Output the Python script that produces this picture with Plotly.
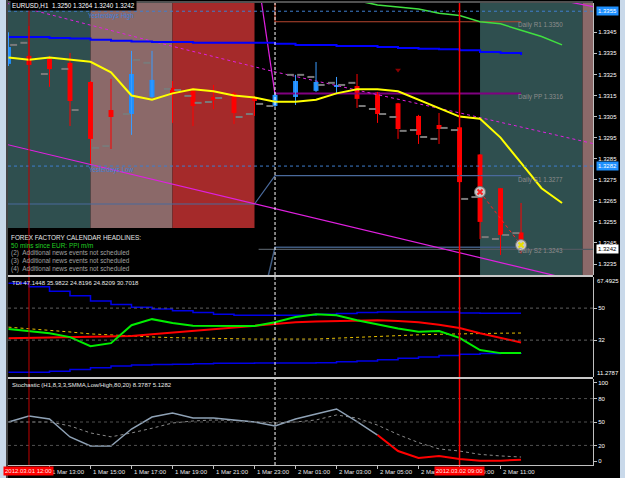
import plotly.graph_objects as go

# ---------------- DATA ----------------
# time axis: hours after 2012-03-01 12:00 (H1 bars, EURUSD)
hours = list(range(-1, 25))
bar_open = [1.3330, 1.33338, 1.33324, 1.33305, 1.33214, 1.33081, 1.33062, 1.33143, 1.33186, 1.33172,
            1.33143, 1.3316, 1.33143, 1.3310, 1.33143, 1.33172, 1.33191, 1.33195, 1.33165, 1.33113,
            1.33053, 1.3301, 1.32999, 1.3287, 1.3271, 1.3250]
bar_high = [1.3345, 1.3348, 1.33338, 1.33352, 1.33219, 1.33229, 1.33362, 1.33362, 1.33219, 1.33186,
            1.3320, 1.33167, 1.33148, 1.33162, 1.33248, 1.33309, 1.33238, 1.33252, 1.33167, 1.33115,
            1.33058, 1.33067, 1.33001, 1.32872, 1.32711, 1.3264]
bar_low = [1.3329, 1.33176, 1.33191, 1.33005, 1.32825, 1.32896, 1.32963, 1.3314, 1.3302, 1.33005,
           1.33086, 1.33015, 1.33053, 1.33095, 1.33105, 1.33167, 1.33157, 1.33091, 1.3302, 1.32944,
           1.3292, 1.3292, 1.32659, 1.32469, 1.32393, 1.3240]
bar_close = [1.3338, 1.33295, 1.33275, 1.33124, 1.32944, 1.33048, 1.33252, 1.33224, 1.33157, 1.331,
             1.33129, 1.33067, 1.33124, 1.33153, 1.33219, 1.33214, 1.3320, 1.33134, 1.33062, 1.32991,
             1.32963, 1.32991, 1.32739, 1.3255, 1.32488, 1.3242]
# gray open/close ticks of a secondary price overlay
gray_left = [None, 1.3340, 1.33252, 1.33276, None, 1.3291, 1.33062, 1.33305, 1.33181, 1.33148,
             1.33119, None, 1.33062, 1.331, 1.33248, 1.33238, 1.3321, 1.3321, 1.33086, 1.33048,
             1.32986, 1.32944, 1.32986, 1.32668, 1.32469, 1.32497]
gray_right = [1.3339, None, None, 1.33081, 1.32901, None, 1.33319, None, 1.33176, 1.33115,
              1.33138, 1.33048, 1.3311, None, 1.33248, 1.3320, 1.3320, 1.331, 1.33062, 1.32982,
              1.32953, 1.32996, 1.32659, 1.32478, 1.32488, None]
# moving averages
ma_yellow_hours = list(range(-1, 27))
ma_yellow = [1.3333, 1.3332, 1.3333, 1.3332, 1.3331, 1.3326, 1.3315, 1.3313, 1.3316, 1.3318,
             1.3317, 1.3315, 1.3314, 1.3312, 1.3312, 1.3313, 1.3316, 1.3318, 1.3318, 1.3317,
             1.3313, 1.3309, 1.3305, 1.3304, 1.3295, 1.3283, 1.3271, 1.3264]
ma_blue = [1.33428, 1.33428, 1.33423, 1.3342, 1.33414, 1.3341, 1.33406, 1.33404, 1.33404, 1.3340,
           1.3340, 1.3340, 1.3340, 1.33395, 1.3339, 1.3339, 1.33385, 1.33385, 1.3338, 1.33376,
           1.33372, 1.3337, 1.33365, 1.33356, 1.33352, 1.33342]
ma_green_hours = list(range(15, 27))
ma_green = [1.3362, 1.3360, 1.3358, 1.3357, 1.3356, 1.3354, 1.3353, 1.3350, 1.3349, 1.3346, 1.3343, 1.3339]
# trend lines
chan_up_hours = [-1.1, 6.15, 12, 21.02, 27.6]
chan_up = [1.33588, 1.33404, 1.33262, 1.33067, 1.3292]
chan_low_hours = [-1.1, 27.6]
chan_low = [1.32918, 1.3225]
steep_hours = [11.3, 12]
steep = [1.3362, 1.33155]
top_right_hours = [25.5, 27.6]
top_right = [1.3361, 1.3357]
# levels
yesterday_high = 1.3355
yesterday_low = 1.32815
pivot_names = ["Daily R1", "Daily PP", "Daily S1", "Daily S2"]
pivot_values = [1.3350, 1.3316, 1.3277, 1.3243]
pivot_colors = ["#b8452f", "#800080", "#4a6a9c", "#3e5a80"]
prev_s1 = 1.32635
prev_s2 = 1.3229
bid = 1.3242
# session boxes
sess_start = [-1.5, 3, 7, 22, 27]
sess_end = [3, 7, 11, 27, 28]
sess_low = [1.32521, 1.32521, 1.32521, 1.32298, 1.32298]
sess_color = ["#2f4f4f", "#8b6969", "#a52a2a", "#2f4f4f", "#8b6969"]
# trade markers
trade_hours = [22, 24]
trade_price = [1.32692, 1.3244]
# TDI
tdi_upper = [64, 62, 59.5, 57, 54, 52, 50.5, 49.5, 48.5, 47.5, 46.5, 46, 46, 46, 46, 46.5, 47, 47.5,
             47.8, 47.8, 47.8, 47.8, 47.2, 47.1, 47.1, 47.1]
tdi_lower = [14, 14, 14.5, 15.5, 16.5, 17.5, 18, 18.3, 18.5, 18.7, 19, 19, 19.1, 19.1, 19.1, 19.3,
             19.8, 20.3, 21, 21.8, 22.5, 23.3, 24.1, 24.5, 24.7, 24.8]
tdi_mid = [39.3, 38.5, 37.6, 36.6, 35.5, 34.8, 34.2, 33.8, 33.4, 33.1, 32.9, 32.7, 32.6, 32.6, 32.6,
           32.6, 33.1, 33.6, 34.2, 34.8, 35, 35.3, 35.6, 35.8, 35.9, 36.0]
tdi_price = [38.2, 37.2, 35.9, 33.7, 28.6, 30.3, 40.4, 43.8, 41.6, 40.1, 40.0, 39.9, 39.9, 42.1, 45.0,
             46.6, 46.0, 43.2, 40.8, 38.6, 36.7, 37.1, 33.3, 26.4, 24.7, 24.8]
tdi_signal = [33.1, 33.3, 33.5, 33.6, 33.7, 33.7, 34.3, 35.3, 36.3, 37.3, 38.3, 39.3, 40.3, 41.3, 42,
              42.5, 42.8, 43.2, 43.2, 42.8, 42, 40.6, 38.8, 35.9, 33.3, 30.7]
tdi_levels = [50, 32]
# Stochastic
sto_main = [50, 57.7, 53.8, 30.8, 19.2, 19.2, 41, 56.4, 61.5, 55.1, 55.1, 52.6, 50, 44.9, 53.8, 60.3,
            66.7, 50.4, 33.3, 12.8, 3.8, 6.4, 2.6, 0.5, 0.5, 1.5]
sto_signal = [50, 50, 50, 45, 36, 31, 36, 42, 48.7, 51.3, 52.6, 52, 50, 48.7, 50, 52.6, 59, 55, 46,
              34, 23.6, 15.5, 12.8, 8.5, 6.5, 5.1]
sto_levels = [80, 50, 20]
sto_red_from = 17
# axis ticks
price_ticks = [1.3345, 1.3335, 1.3325, 1.3315, 1.3305, 1.3295, 1.3285, 1.3275, 1.3265, 1.3255, 1.3245, 1.3235]
time_tick_hours = [1, 3, 5, 7, 9, 11, 13, 15, 17, 19, 21, 23]
time_tick_labels = ["1 Mar 13:00", "1 Mar 15:00", "1 Mar 17:00", "1 Mar 19:00", "1 Mar 21:00",
                    "1 Mar 23:00", "2 Mar 01:00", "2 Mar 03:00", "2 Mar 05:00", "2 Mar 07:00",
                    "2 Mar 09:00", "2 Mar 11:00"]
news = ["FOREX FACTORY CALENDAR HEADLINES:", "50 mins since EUR: PPI m/m",
        "(2)\u00a0\u00a0Additional news events not scheduled",
        "(3)\u00a0\u00a0Additional news events not scheduled",
        "(4)\u00a0\u00a0Additional news events not scheduled"]
news_colors = ["#e8e8e8", "#22cc22", "#a0a0a0", "#a0a0a0", "#a0a0a0"]

# ---------------- FIGURE ----------------
FONT = "Liberation Sans, Arial, sans-serif"
W, H = 625, 478
ML, MR, MT, MB = 8, 32, 3, 13
PW, PH = W - ML - MR, H - MT - MB


def py(px):  # pixel row -> paper y
    return (H - MB - px) / PH


XR = [-1.024, 27.51]
YR = [1.32298, 1.33589]
TR = [11.2787, 67.4925]
SR = [-5.1, 105.1]

fig = go.Figure()
shapes = []
ann = []

# session boxes
for s, e, lo, c in zip(sess_start, sess_end, sess_low, sess_color):
    shapes.append(dict(type="rect", xref="x", yref="y", x0=s, x1=e, y0=lo, y1=YR[1],
                       fillcolor=c, line=dict(width=0), layer="below"))

# yesterday high / low dotted lines
for lv in [yesterday_high, yesterday_low]:
    shapes.append(dict(type="line", xref="paper", yref="y", x0=0, x1=1, y0=lv, y1=lv,
                       line=dict(color="#3f7fcf", width=1, dash="dot")))


def line(x, y, color, width=1, dash=None, axis="y", shape="linear"):
    fig.add_trace(go.Scatter(x=x, y=y, mode="lines", yaxis=axis, hoverinfo="skip",
                             line=dict(color=color, width=width, dash=dash, shape=shape)))


# previous S1 / S2 and current pivots
line([XR[0], 11, 12, 24], [prev_s1, prev_s1, pivot_values[2], pivot_values[2]], pivot_colors[2], 1.2)
line([11.2, XR[1]], [bid, bid], "#505860", 1.2)
line([11.66, 12, 24], [prev_s2, pivot_values[3], pivot_values[3]], pivot_colors[3], 1.5)
line([12, 12, 24], [YR[1], pivot_values[0], pivot_values[0]], pivot_colors[0], 1.2)
line([12, 24], [pivot_values[1], pivot_values[1]], pivot_colors[1], 2)

# trend lines
line(chan_up_hours, chan_up, "#e020e0", 1, "3px,3px")
line(chan_low_hours, chan_low, "#e020e0", 1.2)
line(steep_hours, steep, "#e020e0", 1.2)
line(top_right_hours, top_right, "#e020e0", 1.2)

# moving averages
line(hours, ma_blue, "#0000ff", 2, shape="hv")
line(ma_green_hours, ma_green, "#40e040", 1.5)

# gray ticks
gx, gy = [], []
for h, l, r in zip(hours, gray_left, gray_right):
    if l is not None:
        gx += [h - 0.42, h - 0.08, None]
        gy += [l, l, None]
    if r is not None:
        gx += [h + 0.08, h + 0.42, None]
        gy += [r, r, None]
fig.add_trace(go.Scatter(x=gx, y=gy, mode="lines", line=dict(color="#7a7a7a", width=2), hoverinfo="skip"))

# candles: wicks then bodies
for up, col in [(True, "#3a9cff"), (False, "#ff0000")]:
    wx, wy = [], []
    for h, o, hi, lo, c in zip(hours, bar_open, bar_high, bar_low, bar_close):
        if (c >= o) == up:
            wx += [h, h, None]
            wy += [lo, hi, None]
    fig.add_trace(go.Scatter(x=wx, y=wy, mode="lines", line=dict(color=col, width=1), hoverinfo="skip"))
fig.add_trace(go.Bar(x=hours, base=[min(o, c) for o, c in zip(bar_open, bar_close)],
                     y=[max(abs(c - o), 0.00004) for o, c in zip(bar_open, bar_close)],
                     width=0.24, marker=dict(color=["#1e90ff" if c >= o else "#ff0000"
                                                    for o, c in zip(bar_open, bar_close)],
                                             line=dict(width=0)), hoverinfo="skip"))

# yellow MA on top
line(ma_yellow_hours, ma_yellow, "#ffff00", 2)

# trades
line(trade_hours, trade_price, "#ff2020", 1, "dot")
fig.add_trace(go.Scatter(x=trade_hours, y=trade_price, mode="markers", hoverinfo="skip",
                         marker=dict(size=11, color="#c8c8c8", line=dict(color="#707070", width=1))))
fig.add_trace(go.Scatter(x=trade_hours, y=trade_price, mode="markers", hoverinfo="skip",
                         marker=dict(size=5, color=["#ff2020", "#e8e000"], symbol="x-thin",
                                     line=dict(color=["#ff2020", "#e8e000"], width=2))))
fig.add_trace(go.Scatter(x=[18], y=[1.33271], mode="markers", hoverinfo="skip",
                         marker=dict(size=5, color="#8b0000", symbol="triangle-down")))

# ---- TDI ----
for lv in tdi_levels:
    shapes.append(dict(type="line", xref="paper", yref="y2", x0=0, x1=1, y0=lv, y1=lv,
                       line=dict(color="#606060", width=1, dash="dot")))
line(hours, tdi_upper, "#0000e8", 1.5, axis="y2", shape="hv")
line(hours, tdi_lower, "#0000e8", 1.5, axis="y2", shape="hv")
line(hours, tdi_mid, "#e8c000", 1, "dot", axis="y2")
line(hours, tdi_signal, "#ff0000", 2, axis="y2")
line(hours, tdi_price, "#00ee00", 2, axis="y2")

# ---- Stochastic ----
for lv in sto_levels:
    shapes.append(dict(type="line", xref="paper", yref="y3", x0=0, x1=1, y0=lv, y1=lv,
                       line=dict(color="#505050", width=1, dash="dot")))
line(hours, sto_signal, "#8a8a8a", 1, "dot", axis="y3")
k = hours.index(sto_red_from)
line(hours[:k + 1], sto_main[:k + 1], "#8fa2b6", 1.5, axis="y3")
line(hours[k:], sto_main[k:], "#ff0000", 2, axis="y3")

# vertical markers across all panels
shapes.append(dict(type="line", xref="x", yref="paper", x0=0, x1=0, y0=0, y1=1,
                   line=dict(color="#c00000", width=1)))
shapes.append(dict(type="line", xref="x", yref="paper", x0=12, x1=12, y0=0, y1=1,
                   line=dict(color="#ffffff", width=1, dash="3px,2px")))
shapes.append(dict(type="line", xref="x", yref="paper", x0=21, x1=21, y0=0, y1=1,
                   line=dict(color="#ff0000", width=1.5)))

# panel separators / frame
for p in [276, 378]:
    shapes.append(dict(type="line", xref="paper", yref="paper", x0=0, x1=1, y0=py(p), y1=py(p),
                       line=dict(color="#c8c8c8", width=2)))
shapes.append(dict(type="line", xref="paper", yref="paper", x0=0, x1=1, y0=py(2), y1=py(2),
                   line=dict(color="#a0a0a0", width=1)))
shapes.append(dict(type="rect", xref="paper", yref="paper", x0=-ML / PW, x1=-2 / PW, y0=py(H), y1=py(0),
                   fillcolor="#c9d9ea", line=dict(width=0)))
shapes.append(dict(type="line", xref="paper", yref="paper", x0=-1 / PW, x1=-1 / PW, y0=py(H), y1=py(0),
                   line=dict(color="#8a8a8a", width=1)))
shapes.append(dict(type="rect", xref="paper", yref="paper", x0=(620 - ML) / PW, x1=(W - ML) / PW,
                   y0=py(H), y1=py(0), fillcolor="#c9d9ea", line=dict(width=0)))

# ---- texts ----
def text(x, y, s, color="#ffffff", size=6.3, xref="paper", yref="paper", xanchor="left",
         yanchor="middle", bg=None, **kw):
    d = dict(x=x, y=y, xref=xref, yref=yref, text=s, showarrow=False, xanchor=xanchor,
             yanchor=yanchor, font=dict(family=FONT, size=size, color=color), borderpad=0)
    if bg:
        d["bgcolor"] = bg
        d["borderpad"] = 1
    d.update(kw)
    ann.append(d)


text(2 / PW, py(5.5), "EURUSD,H1\u00a0\u00a01.3250 1.3264 1.3240 1.3242", bg="#000000", size=6.3)
text(2.83, 1.33528, "Yesterdays High", "#3f80d8", 6.3, "x", "y")
text(2.88, 1.32796, "Yesterdays Low", "#3f80d8", 6.3, "x", "y")
label_y = [1.33485, 1.33143, 1.32749, 1.32412]
for n, v, yy in zip(pivot_names, pivot_values, label_y):
    text(23.8, yy, f"{n} {v:.4f}", "#8c8c8c", 6.3, "x", "y")
for i, (s, c) in enumerate(zip(news, news_colors)):
    text(2 / PW, py(237 + i * 8), s, c, 6.4)
text(3 / PW, py(283), "TDI 47.1448 35.9822 24.8196 24.8209 30.7018", "#e8e8e8", 6)
text(3 / PW, py(385), "Stochastic (H1,8,3,3,SMMA,Low/High,80,20) 8.3787 5.1282", "#e8e8e8", 6)

# right-axis highlighted prices
text(1, yesterday_high, "1.3355", "#ffffff", 6, "paper", "y", xshift=3, bg="#1e90ff")
text(1, yesterday_low, "1.3282", "#ffffff", 6, "paper", "y", xshift=3, bg="#1e90ff")
text(1, bid, "1.3242", "#000000", 6, "paper", "y", xshift=3, bg="#ffffff")
text(1, TR[1], "67.4925", "#ffffff", 6, "paper", "y2", yanchor="top", xshift=3)
text(1, TR[0], "11.2787", "#ffffff", 6, "paper", "y2", yanchor="bottom", xshift=3)

# time labels
for hh, s in zip(time_tick_hours, time_tick_labels):
    text(hh, py(472), s, "#e8e8e8", 6, "x", "paper", xshift=1)
text(0, py(471), "2012.03.01 12:00", "#ffe0e0", 6, "x", "paper", xanchor="center", bg="#ff0000")
text(21, py(471), "2012.03.02 09:00", "#ffe0e0", 6, "x", "paper", xanchor="center", bg="#ff0000")

axis_common = dict(showgrid=False, zeroline=False, side="right", anchor="x", ticks="outside",
                   ticklen=3, tickcolor="#c0c0c0", showline=True, linecolor="#c0c0c0", linewidth=1,
                   tickfont=dict(family=FONT, size=6, color="#ffffff"), fixedrange=True)

fig.update_layout(
    width=W, height=H, margin=dict(l=ML, r=MR, t=MT, b=MB),
    paper_bgcolor="#000000", plot_bgcolor="#000000", showlegend=False, barmode="overlay",
    xaxis=dict(domain=[0, 1], range=XR, anchor="y3", showgrid=False, zeroline=False,
               tickvals=time_tick_hours, ticks="outside", ticklen=3, tickcolor="#c0c0c0",
               showticklabels=False, showline=True, linecolor="#c0c0c0", fixedrange=True),
    yaxis=dict(domain=[py(275), 1], range=YR, tickvals=price_ticks,
               ticktext=[f"{v:.4f}" for v in price_ticks], **axis_common),
    yaxis2=dict(domain=[py(377), py(277)], range=TR, tickvals=tdi_levels,
                ticktext=[str(v) for v in tdi_levels], **axis_common),
    yaxis3=dict(domain=[0, py(379)], range=SR, tickvals=[100, 80, 50, 20, 0],
                ticktext=["100", "80", "50", "20", "0"], **axis_common),
    shapes=shapes, annotations=ann,
)

fig.write_html("out.html")
